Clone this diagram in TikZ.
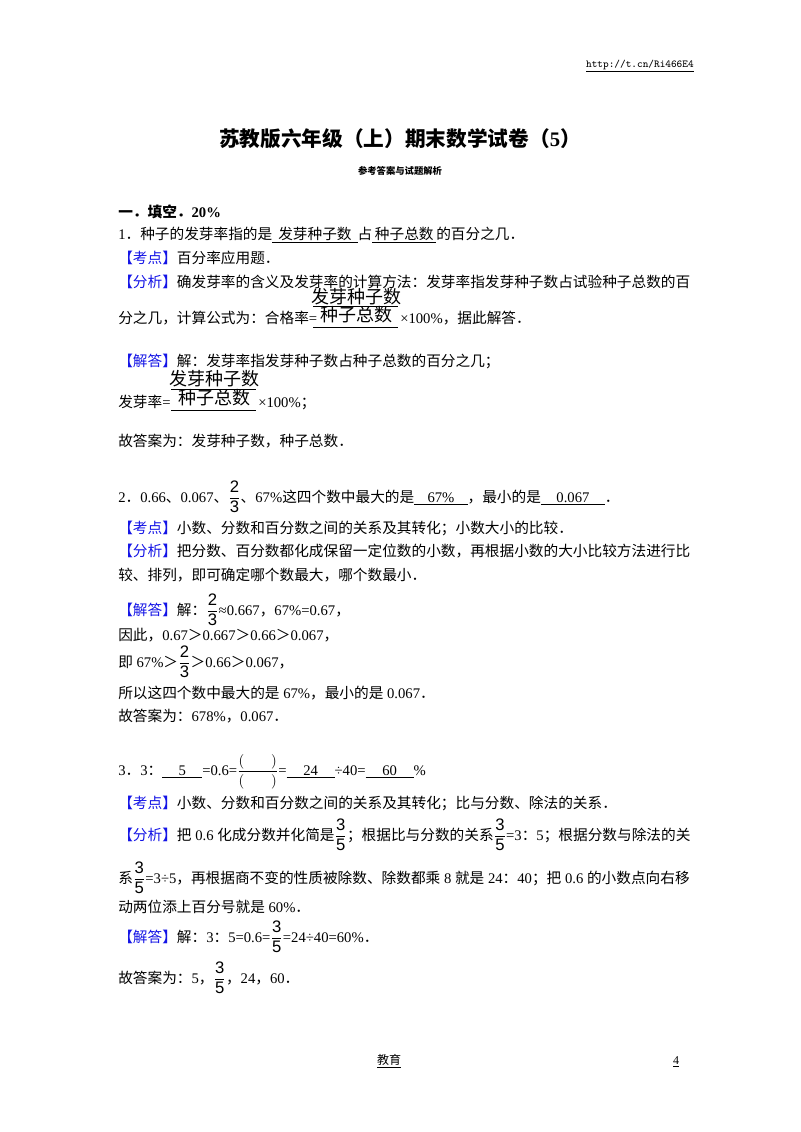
\documentclass[tikz,border=0pt]{standalone}
\usepackage{fontspec}
\setmainfont{Liberation Serif}
\newfontfamily\cjk{Noto Sans CJK SC}
\newfontfamily\fsans{Liberation Sans}
\XeTeXinterchartokenstate=1
\newXeTeXintercharclass\CJKcls
\newcount\cc
\def\setcls#1#2{\cc=#1 \loop\XeTeXcharclass\cc=\CJKcls\ifnum\cc<#2 \advance\cc 1 \repeat}
\setcls{"3000}{"303F}\setcls{"4E00}{"9FFF}\setcls{"FF00}{"FFEF}
\XeTeXinterchartoks 0 \CJKcls={\begingroup\cjk}
\XeTeXinterchartoks 4095 \CJKcls={\begingroup\cjk}
\XeTeXinterchartoks \CJKcls 0={\endgroup}
\XeTeXinterchartoks \CJKcls 4095={\endgroup}
\definecolor{kblue}{RGB}{20,20,230}
\newcommand{\tag}[1]{\textcolor{kblue}{【#1】}}
\newcommand{\blank}[2]{\underline{\makebox[#1]{#2}}}
\newcommand{\sfr}[2]{$\displaystyle\frac{\hbox{\fsans\fontsize{12.5}{13}\selectfont #1}}{\hbox{\fsans\fontsize{12.5}{13}\selectfont #2}}$}
\begin{document}
\begin{tikzpicture}[x=0.75pt,y=-0.75pt,
  t/.style={anchor=base west,inner sep=0pt,font=\fontsize{11}{12}\selectfont},
  big/.style={anchor=base,inner sep=0pt,font=\fontsize{13.5}{14}\selectfont}]
\useasboundingbox[fill=white] (0,0) rectangle (800,1132);
\node[anchor=base east,inner sep=0pt,font=\ttfamily\fontsize{8}{9}\selectfont] (url) at (694,67) {\underline{http://t.cn/Ri466E4}};
\node[anchor=base,inner sep=0pt,font=\bfseries\fontsize{15.5}{16}\selectfont] (title) at (400,146) {苏教版六年级（上）期末数学试卷（5）};
\node[anchor=base,inner sep=0pt,font=\bfseries\fontsize{7}{8}\selectfont] (sub) at (400,174) {参考答案与试题解析};
\node[t,font=\bfseries\fontsize{11}{12}\selectfont] (h1) at (118,217) {一．填空．20\%};
\node[t] (l1) at (118,239) {1．种子的发芽率指的是\blank{64pt}{发芽种子数}占\blank{48pt}{种子总数}的百分之几．};
\node[t] (l2) at (118,263) {\tag{考点}百分率应用题．};
\node[t] (l3) at (118,287) {\tag{分析}确发芽率的含义及发芽率的计算方法：发芽率指发芽种子数占试验种子总数的百};
\node[t] (l4) at (118,323) {分之几，计算公式为：合格率=};
\node[big] (n4) at (356,303) {发芽种子数};
\node[big] (d4) at (356,321) {种子总数};
\draw (313,306) -- (398,306);
\draw (313,327) -- (398,327);
\node[t] (l4b) at (400,323) {×100\%，据此解答．};
\node[t] (l5) at (118,366) {\tag{解答}解：发芽率指发芽种子数占种子总数的百分之几；};
\node[t] (l6) at (118,407) {发芽率=};
\node[big] (n6) at (214,385) {发芽种子数};
\node[big] (d6) at (214,404) {种子总数};
\draw (171,389) -- (256,389);
\draw (171,410) -- (256,410);
\node[t] (l6b) at (258,407) {×100\%；};
\node[t] (l7) at (118,446) {故答案为：发芽种子数，种子总数．};
\node[t] (q2) at (118,502) {2．0.66、0.067、\sfr{2}{3}、67\%这四个数中最大的是\blank{40pt}{67\%}，最小的是\blank{48pt}{0.067}．};
\node[t] (q2a) at (118,533) {\tag{考点}小数、分数和百分数之间的关系及其转化；小数大小的比较．};
\node[t] (q2b) at (118,556) {\tag{分析}把分数、百分数都化成保留一定位数的小数，再根据小数的大小比较方法进行比};
\node[t] (q2c) at (118,580) {较、排列，即可确定哪个数最大，哪个数最小．};
\node[t] (q2d) at (118,615) {\tag{解答}解：\sfr{2}{3}≈0.667，67\%=0.67，};
\node[t] (q2e) at (118,640) {因此，0.67＞0.667＞0.66＞0.067，};
\node[t] (q2f) at (118,667) {即 67\%＞\sfr{2}{3}＞0.66＞0.067，};
\node[t] (q2g) at (118,698) {所以这四个数中最大的是 67\%，最小的是 0.067．};
\node[t] (q2h) at (118,721) {故答案为：678\%，0.067．};
\node[t] (q3) at (118,775) {3．3：\blank{30pt}{5}=0.6=$\displaystyle\frac{(\hspace{20pt})}{(\hspace{20pt})}$=\blank{36pt}{24}÷40=\blank{36pt}{60}\%};
\node[t] (q3a) at (118,808) {\tag{考点}小数、分数和百分数之间的关系及其转化；比与分数、除法的关系．};
\node[t] (q3b) at (118,840) {\tag{分析}把 0.6 化成分数并化简是\sfr{3}{5}；根据比与分数的关系\sfr{3}{5}=3：5；根据分数与除法的关};
\node[t] (q3c) at (118,883) {系\sfr{3}{5}=3÷5，再根据商不变的性质被除数、除数都乘 8 就是 24：40；把 0.6 的小数点向右移};
\node[t] (q3d) at (118,912) {动两位添上百分号就是 60\%．};
\node[t] (q3e) at (118,942) {\tag{解答}解：3：5=0.6=\sfr{3}{5}=24÷40=60\%．};
\node[t] (q3f) at (118,983) {故答案为：5，\sfr{3}{5}，24，60．};
\node[anchor=base,inner sep=0pt,font=\fontsize{9}{10}\selectfont] (ft) at (389,1064) {\underline{教育}};
\node[anchor=base,inner sep=0pt,font=\fontsize{9}{10}\selectfont] (pg) at (676,1064) {\underline{4}};
\end{tikzpicture}
\end{document}
